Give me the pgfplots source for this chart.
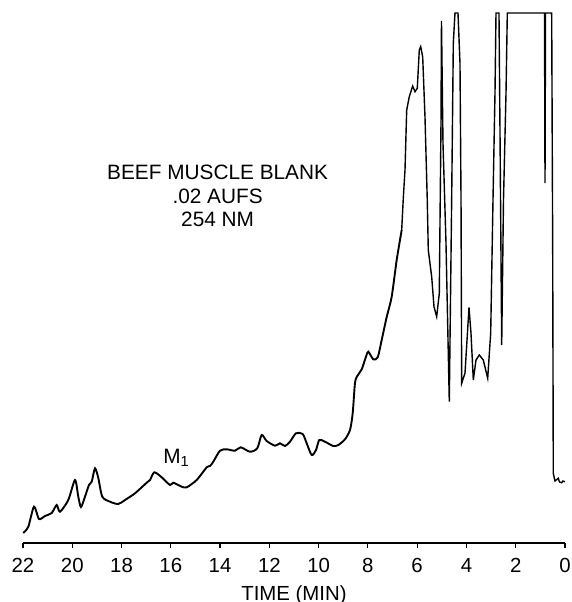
\documentclass[border=0pt]{standalone}
\usepackage{fontspec}
\setmainfont{Liberation Sans}
\usepackage{pgfplots}
\pgfplotsset{compat=1.18}
\begin{document}
\begin{tikzpicture}
\useasboundingbox (-11.5pt,-29.5pt) rectangle (274.5pt,271.5pt);
\begin{axis}[
  at={(0,0)}, anchor=south west,
  scale only axis, width=271pt, height=271.5pt,
  xmin=0, xmax=22, ymin=0, ymax=543,
  x dir=reverse,
  axis x line*=bottom, axis y line=none,
  axis line style={-, line width=0.9pt},
  xtick={0,2,...,22},
  tick align=outside, major tick length=2.5pt,
  tick style={line width=0.6pt, black},
  /pgf/number format/assume math mode=true,
  xticklabel style={font=\fontsize{10.2}{12}\selectfont, yshift=-1.8pt},
  xlabel={TIME (MIN)},
  xlabel style={font=\fontsize{10.2}{12}\selectfont, at={(axis description cs:0.5,0)}, anchor=base, yshift=-28.7pt},
  clip=false,
]
\addplot[black, line width=0.95pt, smooth, tension=0.45] coordinates {
(21.99,10) (21.785,16.3) (21.553,36.3) (21.351,24) (21.107,27) (20.835,30)
(20.632,38) (20.498,31.3) (20.161,43) (19.889,63) (19.755,46.3) (19.646,36)
(19.483,46.3) (19.321,58) (19.211,61.3) (19.077,74.7) (18.943,65) (18.781,46.3)
(18.469,41.3) (18.132,39) (17.860,43) (17.454,49.7) (16.979,60.3) (16.845,63)
(16.670,70.7) (16.370,65.7) (16.033,58) (15.899,60.3) (15.558,56.3) (15.355,55.7)
(14.949,63) (14.543,75.7) (14.409,77) (14.275,81.3) (14.004,92.3) (13.732,93.7)
(13.395,92.3) (13.163,95.7) (12.786,91.3) (12.490,94.7) (12.311,108) (12.108,102)
(11.771,97.3) (11.568,99.7) (11.365,97) (11.162,101.3) (10.919,109.7) (10.647,109)
(10.484,99.7) (10.281,88) (10.107,93) (9.973,103) (9.742,101.3) (9.405,97)
(9.202,98) (8.930,103.7) (8.727,113) (8.617,129.7) (8.524,160) (8.430,167)
(8.252,173.7) (8.077,186.3) (7.984,191.3) (7.781,183.7) (7.602,185.7) (7.440,203)
(7.237,226) (7.034,246.3) (6.831,283) (6.628,313)
};
\addplot[black, line width=0.7pt] coordinates {
(6.628,313) (6.563,345) (6.494,373) (6.425,433) (6.320,446.3) (6.182,457)
(6.088,451.3) (5.995,454.7) (5.914,493) (5.857,496.3) (5.776,486.3) (5.683,426.3)
(5.590,343) (5.549,293) (5.411,266.3) (5.317,236.3) (5.208,226.3) (5.102,249.7)
(5.033,420) (5.013,522) (4.952,400) (4.830,300) (4.696,141.3)
(4.600,343) (4.533,500) (4.465,530) (4.343,530) (4.262,480) (4.220,343) (4.193,159.7)
(4.058,170) (3.896,235.7) (3.815,209.7) (3.721,163) (3.612,183) (3.478,188)
(3.316,183) (3.137,164.7) (3.016,209.7) (2.922,343) (2.841,450) (2.800,530)
(2.679,530) (2.634,400) (2.569,198) (2.496,343) (2.394,450) (2.341,530)
(0.852,530) (0.831,530) (0.811,360) (0.790,530) (0.540,530) (0.500,300)
(0.475,69.7) (0.406,62) (0.272,64.7) (0.223,61) (0.135,60.3) (0.081,62) (0.0,61.3)
};
\node[align=center, font=\fontsize{10.4}{11.75}\selectfont] at (axis cs:14.1,347) {BEEF MUSCLE BLANK\\.02 AUFS\\254 NM};
\node[anchor=base west, inner sep=0pt, font=\fontsize{10.4}{12}\selectfont] at (axis cs:16.32,80) {M\textsubscript{1}};
\end{axis}
\end{tikzpicture}
\end{document}
